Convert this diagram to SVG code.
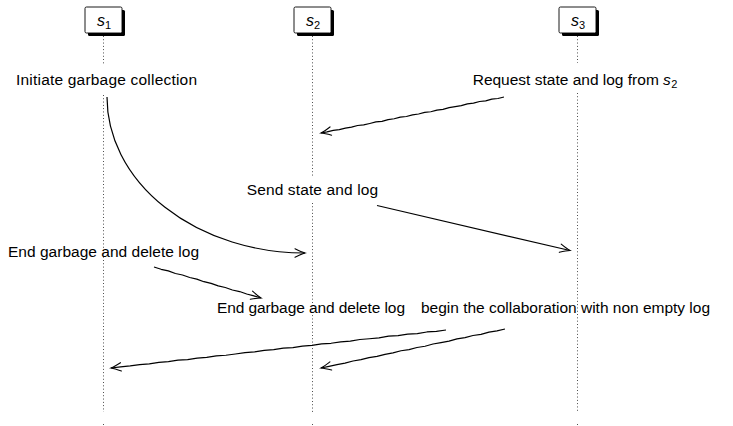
<svg xmlns="http://www.w3.org/2000/svg" width="733" height="426" viewBox="0 0 733 426">
<style>
  .lbl { font-family: "Liberation Sans", Arial, sans-serif; font-size: 15.5px; fill: #000; }
  .nm { font-family: "Liberation Sans", Arial, sans-serif; font-size: 16px; font-style: italic; fill: #000; }
  .sub { font-size: 11px; font-style: normal; }
  .box { fill: #fff; stroke: #000; stroke-width: 0.9; }
  .shadow { fill: #000; }
  .life { stroke: #222; stroke-width: 0.9; stroke-dasharray: 0.9 2.4; fill: none; }
  .conn { fill: none; stroke: #000; stroke-width: 1.2; stroke-linejoin: round; marker-end: url(#to); }
</style>
<defs>
  <marker id="to" markerUnits="userSpaceOnUse" markerWidth="14" markerHeight="12" viewBox="-12 -6 14 12" refX="0" refY="0" orient="auto" overflow="visible">
    <path d="M-10,-4.2 Q-3.5,-1 0,0 Q-3.5,1 -10,4.2" fill="none" stroke="#000" stroke-width="1.1" stroke-linecap="round"/>
  </marker>
</defs>
<rect width="733" height="426" fill="#fff"/>

<g id="lifelines">
  <path class="life" d="M103.5,36V65M103.5,95V412M103.5,424V426"/>
  <path class="life" d="M312.5,36V177M312.5,203V412M312.5,424V426"/>
  <path class="life" d="M577.5,36V63M577.5,93V412M577.5,424V426"/>
</g>

<g id="s1">
  <rect class="shadow" x="88" y="10" width="37" height="26" rx="1.5"/>
  <rect class="box" x="85" y="7" width="37" height="26" rx="1.5"/>
  <text class="nm" x="104" y="26" text-anchor="middle">s<tspan class="sub" dy="2.5">1</tspan></text>
</g>
<g id="s2">
  <rect class="shadow" x="297" y="10" width="37" height="26" rx="1.5"/>
  <rect class="box" x="294" y="7" width="37" height="26" rx="1.5"/>
  <text class="nm" x="313" y="26" text-anchor="middle">s<tspan class="sub" dy="2.5">2</tspan></text>
</g>
<g id="s3">
  <rect class="shadow" x="562" y="10" width="37" height="26" rx="1.5"/>
  <rect class="box" x="559" y="7" width="37" height="26" rx="1.5"/>
  <text class="nm" x="578" y="26" text-anchor="middle">s<tspan class="sub" dy="2.5">3</tspan></text>
</g>

<g id="labels">
  <text class="lbl" x="16" y="85" textLength="181">Initiate garbage collection</text>
  <text class="lbl" x="472.7" y="85">Request state and log from <tspan font-style="italic">s</tspan><tspan font-size="11" dy="3" dx="0.5">2</tspan></text>
  <text class="lbl" x="246.7" y="194.5" textLength="131.5">Send state and log</text>
  <text class="lbl" x="8" y="257" textLength="191">End garbage and delete log</text>
  <text class="lbl" x="217" y="313" textLength="188">End garbage and delete log</text>
  <text class="lbl" x="421" y="313" textLength="289">begin the collaboration with non empty log</text>
</g>

<g id="connectors">
  <path class="conn" d="M504,97 L497.9,98.5 491.8,99.2 485.7,100.95 479.6,101.5 473.5,103.15 467.4,103.85 461.3,105.65 455.2,106.6 449.1,107.55 443,109.3 436.9,110.05 430.8,111.75 424.7,112.3 418.6,114 412.5,114.9 406.4,116.5 400.3,117.05 394.2,118.75 388.1,119.6 382,121.3 375.9,121.95 369.8,123.5 363.7,124.95 357.6,125.5 351.5,127.2 345.4,128.05 339.3,129.65 333.2,130.4 327.1,131.8 321,133"/>
  <path class="conn" d="M107,97 A198,156 0 0 0 305,253"/>
  <path class="conn" d="M377,205.5 L570,250.5"/>
  <path class="conn" d="M154,267 L161.1,269.3 168.3,270.9 175.4,273.5 182.5,275 189.7,277.5 196.8,279.1 203.9,281.7 211.1,283.4 218.2,285.9 225.3,287.5 232.4,290 239.6,291.55 246.7,294 253.9,295.93 261,298"/>
  <path class="conn" d="M446,330 L436.4,331.35 426.9,331.97 417.3,333.56 407.7,334.09 398.1,335.58 388.6,336.21 379,337.8 369.4,338.74 359.9,339.52 350.3,341.16 340.7,341.79 331.1,343.28 321.6,343.81 312,345.4 302.4,346.19 292.9,347.67 283.3,348.21 273.7,349.69 264.2,350.43 254.6,351.96 245,352.55 235.4,353.99 225.9,355.27 216.3,355.81 206.7,357.34 197.2,358.08 187.6,359.56 178,360.2 168.4,361.64 158.9,362.32 149.3,363.86 139.7,364.59 130.2,365.93 120.6,366.91 111,368"/>
  <path class="conn" d="M505,329 L497,330.95 489,332.19 481,334.39 473,335.53 465,337.63 457,338.87 449,341.07 441,342.62 433,344.01 425,346.26 417,347.5 409,349.6 401,350.74 393,352.94 385,354.33 377,356.43 369,357.58 361,359.67 353,361.02 345,363.06 337,364.61 329,366.3 321,368"/>
</g>
</svg>
